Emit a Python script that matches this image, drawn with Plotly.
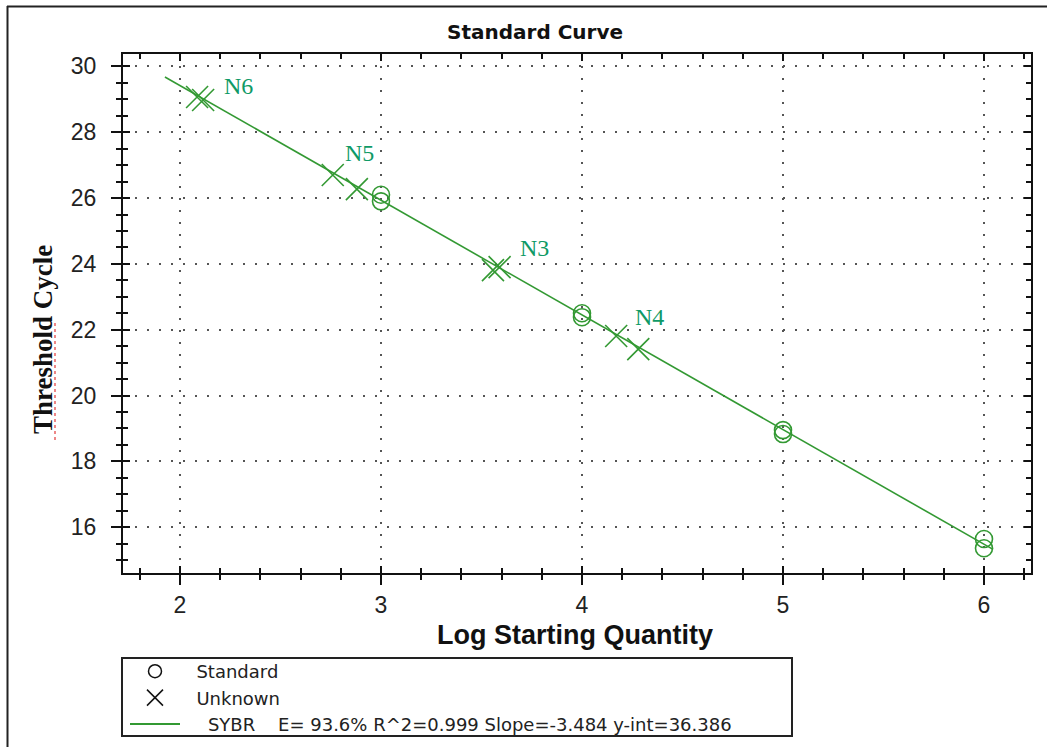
import plotly.graph_objects as go

# ---------------- data ----------------
std_x = [3, 3, 4, 4, 5, 5, 6, 6]
std_y = [26.10, 25.90, 22.50, 22.38, 18.95, 18.83, 15.64, 15.36]

unk_x = [2.085, 2.115, 2.76, 2.88, 3.557, 3.59, 4.17, 4.28]
unk_y = [29.07, 28.98, 26.70, 26.27, 23.81, 23.90, 21.81, 21.41]

unk_names = ["N6", "N5", "N3", "N4"]
unk_label_x = [2.29, 2.895, 3.766, 4.338]
unk_label_y = [29.40, 27.37, 24.48, 22.39]

fit_slope = -3.484
fit_intercept = 36.386
fit_x = [1.925, 6.045]
fit_y = [fit_intercept + fit_slope * v for v in fit_x]

x_ticks = [2, 3, 4, 5, 6]
y_ticks = [16, 18, 20, 22, 24, 26, 28, 30]

legend_line_text = "SYBR\u00a0\u00a0\u00a0\u00a0E= 93.6% R^2=0.999 Slope=-3.484 y-int=36.386"

# ---------------- layout helpers ----------------
W, H = 1047, 747
L, R, T, B = 123, 1031, 54, 573  # plot area in pixels


def px(x):
    return (x - L) / (R - L)


def py(y):
    return (B - y) / (B - T)


GREEN = "#339933"
LABEL = "#0f9a66"
AX = "#111111"

fig = go.Figure()

# fitted line
fig.add_trace(go.Scatter(x=fit_x, y=fit_y, mode="lines",
                         line=dict(color=GREEN, width=1.6),
                         showlegend=False, hoverinfo="skip"))
# standards
fig.add_trace(go.Scatter(x=std_x, y=std_y, mode="markers",
                         marker=dict(symbol="circle-open", size=17, color=GREEN,
                                     line=dict(width=1.6, color=GREEN)),
                         showlegend=False))
# unknowns
fig.add_trace(go.Scatter(x=unk_x, y=unk_y, mode="markers",
                         marker=dict(symbol="x-thin-open", size=22, color=GREEN,
                                     line=dict(width=1.6, color=GREEN)),
                         showlegend=False))

# legend entries (black symbols as in the original legend)
fig.add_trace(go.Scatter(x=[None], y=[None], mode="markers", name="\u00a0\u00a0Standard",
                         marker=dict(symbol="circle-open", size=13, color="#111",
                                     line=dict(width=1.5, color="#111"))))
fig.add_trace(go.Scatter(x=[None], y=[None], mode="markers", name="\u00a0\u00a0Unknown",
                         marker=dict(symbol="x-thin-open", size=20, color="#111",
                                     line=dict(width=1.5, color="#111"))))
fig.add_trace(go.Scatter(x=[None], y=[None], mode="lines",
                         name="\u00a0\u00a0\u00a0\u00a0" + legend_line_text,
                         line=dict(color=GREEN, width=2)))

annotations = []
for name, ax_, ay_ in zip(unk_names, unk_label_x, unk_label_y):
    annotations.append(dict(x=ax_, y=ay_, xref="x", yref="y", text=name, showarrow=False,
                            xanchor="center", yanchor="middle",
                            font=dict(family="Liberation Serif", size=24, color=LABEL)))

annotations += [
    dict(x=px(535), y=py(32), xref="paper", yref="paper", text="<b>Standard Curve</b>",
         xanchor="center", yanchor="middle",
         showarrow=False, font=dict(family="DejaVu Sans", size=20, color="#111")),
    dict(x=px(575), y=py(635), xref="paper", yref="paper", text="<b>Log Starting Quantity</b>",
         xanchor="center", yanchor="middle",
         showarrow=False, font=dict(family="Liberation Sans", size=27, color="#111")),
    dict(x=px(43), y=py(340), xref="paper", yref="paper", text="<b>Threshold Cycle</b>",
         xanchor="center", yanchor="middle",
         textangle=-90, showarrow=False,
         font=dict(family="Liberation Serif", size=27, color="#111")),
]

shapes = [
    # outer frame (top and left edges)
    dict(type="line", xref="paper", yref="paper", x0=px(7), x1=px(1047), y0=py(6.5), y1=py(6.5),
         line=dict(color="#222", width=2)),
    dict(type="line", xref="paper", yref="paper", x0=px(7.5), x1=px(7.5), y0=py(6), y1=py(747),
         line=dict(color="#222", width=2)),
    # legend box
    dict(type="rect", xref="paper", yref="paper", x0=px(122), x1=px(792), y0=py(736), y1=py(658),
         line=dict(color="#222", width=2), fillcolor="rgba(0,0,0,0)"),
    # spell-check underline under "Threshold"
    dict(type="line", xref="paper", yref="paper", x0=px(55), x1=px(55), y0=py(440), y1=py(320),
         line=dict(color="#e86060", width=1.5, dash="dot")),
]

grid = dict(showgrid=True, gridcolor="#555555", gridwidth=2, griddash="2px,10px")

x_range = [2 - (180 - L) / 201.0, 6 + (R - 984) / 201.0]
y_range = [16 - (B - 527.2) / 32.91, 30 + (66.4 - T) / 32.91]

fig.update_layout(
    width=W, height=H,
    margin=dict(l=L, r=W - R, t=T, b=H - B, pad=0, autoexpand=False),
    plot_bgcolor="white", paper_bgcolor="white",
    font=dict(family="Liberation Sans", color="#222"),
    xaxis=dict(range=x_range, tickvals=x_ticks, ticks="outside", ticklen=10, tickwidth=2,
               tickcolor=AX, showline=True, linecolor=AX, linewidth=2, zeroline=False,
               tickfont=dict(size=23, color="#222"), ticklabelstandoff=0,
               minor=dict(dtick=0.2, tick0=0, ticks="outside", ticklen=5, tickwidth=2,
                          tickcolor=AX, showgrid=False),
               **grid),
    yaxis=dict(range=y_range, tickvals=y_ticks, ticks="outside", ticklen=10, tickwidth=2,
               tickcolor=AX, showline=True, linecolor=AX, linewidth=2, zeroline=False,
               tickfont=dict(size=23, color="#222"), ticklabelstandoff=10,
               minor=dict(dtick=0.5, tick0=0, ticks="outside", ticklen=5, tickwidth=2,
                          tickcolor=AX, showgrid=False),
               **grid),
    xaxis2=dict(overlaying="x", matches="x", anchor="y", side="bottom", range=x_range,
                tickvals=x_ticks, ticks="inside", ticklen=7, tickwidth=2, tickcolor=AX,
                showticklabels=False, showgrid=False, zeroline=False,
                showline=True, linecolor=AX, linewidth=2, mirror="allticks",
                minor=dict(dtick=0.2, tick0=0, ticks="inside", ticklen=5, tickwidth=2,
                           tickcolor=AX, showgrid=False)),
    yaxis2=dict(overlaying="y", matches="y", anchor="x", side="left", range=y_range,
                tickvals=y_ticks, ticks="inside", ticklen=7, tickwidth=2, tickcolor=AX,
                showticklabels=False, showgrid=False, zeroline=False,
                showline=True, linecolor=AX, linewidth=2, mirror="allticks",
                minor=dict(dtick=0.5, tick0=0, ticks="inside", ticklen=5, tickwidth=2,
                           tickcolor=AX, showgrid=False)),
    legend=dict(x=px(125), y=py(653), xanchor="left", yanchor="top", xref="paper", yref="paper",
                bgcolor="rgba(0,0,0,0)", borderwidth=0, itemwidth=50, tracegroupgap=0,
                font=dict(family="DejaVu Sans", size=18, color="#222")),
    annotations=annotations,
    shapes=shapes,
)

# invisible trace to activate the overlay axes
fig.add_trace(go.Scatter(x=[None], y=[None], xaxis="x2", yaxis="y2", showlegend=False,
                         hoverinfo="skip"))

fig.write_html("out.html")
